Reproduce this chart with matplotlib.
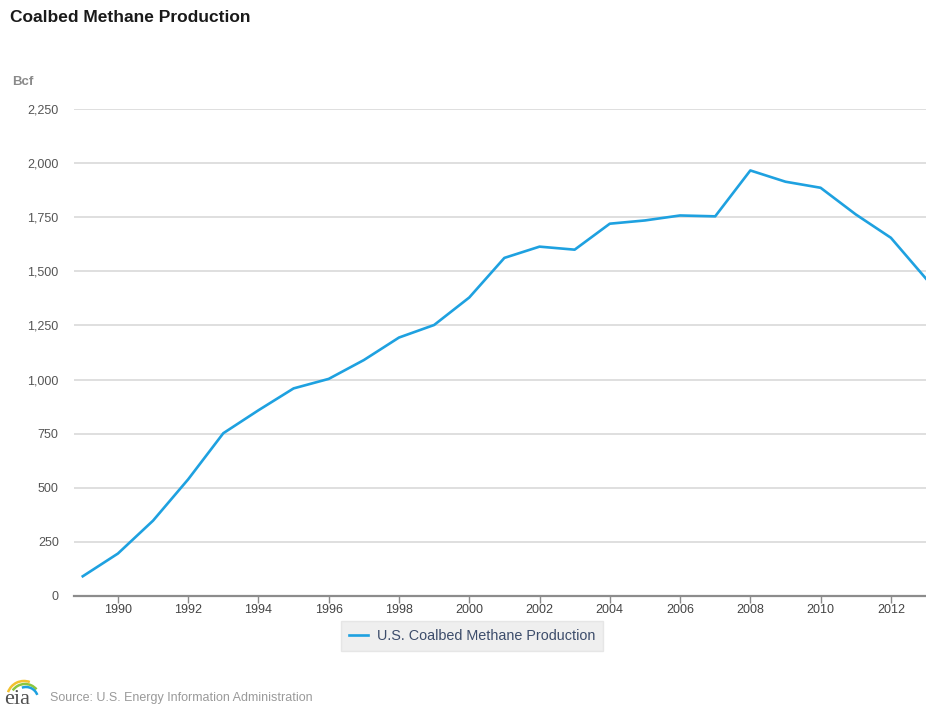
import matplotlib

matplotlib.use('Agg')
import matplotlib.pyplot as plt
from matplotlib.patches import Arc
from matplotlib.ticker import FuncFormatter

# annual U.S. coalbed methane production, Bcf
years = [1989, 1990, 1991, 1992, 1993, 1994, 1995, 1996, 1997, 1998, 1999, 2000,
         2001, 2002, 2003, 2004, 2005, 2006, 2007, 2008, 2009, 2010, 2011, 2012, 2013]
production = [91, 196, 348, 539, 752, 858, 959, 1003, 1090, 1194, 1252, 1379,
              1562, 1614, 1600, 1720, 1735, 1758, 1754, 1966, 1914, 1886, 1763, 1655, 1466]
x_ticks = list(range(1990, 2013, 2))
y_ticks = [0, 250, 500, 750, 1000, 1250, 1500, 1750, 2000, 2250]

plt.rcParams['font.family'] = ['Liberation Sans', 'DejaVu Sans']

fig = plt.figure(figsize=(9.26, 7.1), dpi=100)
ax = fig.add_axes([0.0799, 0.1606, 0.9201, 0.6859])

line, = ax.plot(years, production, color='#1ea1e0', linewidth=1.9,
                solid_joinstyle='round', clip_on=True)

ax.set_xlim(1988.75, 2013.0)
ax.set_ylim(0, 2250)
ax.set_yticks(y_ticks)
ax.set_xticks(x_ticks)
ax.yaxis.set_major_formatter(FuncFormatter(lambda v, p: f'{int(v):,}'))
ax.grid(axis='y', color='#d6d6d6', linewidth=1.1)
ax.set_axisbelow(True)

for side in ['top', 'right', 'left']:
    ax.spines[side].set_visible(False)
ax.spines['bottom'].set_color('#8c8c8c')
ax.spines['bottom'].set_linewidth(1.6)

ax.tick_params(axis='y', length=0, pad=11, labelsize=9, labelcolor='#555555')
ax.tick_params(axis='x', length=5, width=1, color='#8c8c8c', pad=1,
               labelsize=9, labelcolor='#444444')

fig.text(0.011, 0.976, 'Coalbed Methane Production', fontsize=12.5,
         fontweight='bold', color='#1a1a1a', va='center', ha='left')
fig.text(0.013, 0.884, 'Bcf', fontsize=9.5, fontweight='bold',
         color='#8a8a8a', va='center', ha='left')

leg = fig.legend([line], ['U.S. Coalbed Methane Production'],
                 loc='center', bbox_to_anchor=(0.51, 0.1045), frameon=True,
                 fancybox=False, fontsize=10.4, handlelength=1.3,
                 handletextpad=0.6, borderpad=0.55, borderaxespad=0)
leg.get_frame().set_facecolor('#ebebeb')
leg.get_frame().set_edgecolor('#e2e2e2')
for t in leg.get_texts():
    t.set_color('#3d4d6b')

# eia mark next to the source line, drawn in pixel units
logo = fig.add_axes([0.0, 0.0, 50 / 926, 40 / 710])
logo.set_xlim(0, 50)
logo.set_ylim(710, 670)
logo.axis('off')
logo.text(4, 704, 'eia', fontsize=16, family='Liberation Serif',
          color='#505050', ha='left', va='baseline')
for (cx, cy, r, t1, t2, c) in [(24, 698, 17, 200, 290, '#f2c12e'),
                               (25, 699, 15, 215, 320, '#8cc63f'),
                               (26, 699, 12, 250, 340, '#1ea1e0')]:
    logo.add_patch(Arc((cx, cy), 2 * r, 2 * r, theta1=t1, theta2=t2,
                       color=c, linewidth=1.8))

fig.text(0.054, 0.017, 'Source: U.S. Energy Information Administration',
         fontsize=9, color='#9a9a9a', va='center', ha='left')

fig.savefig('out.png', dpi=100)
plt.close(fig)
